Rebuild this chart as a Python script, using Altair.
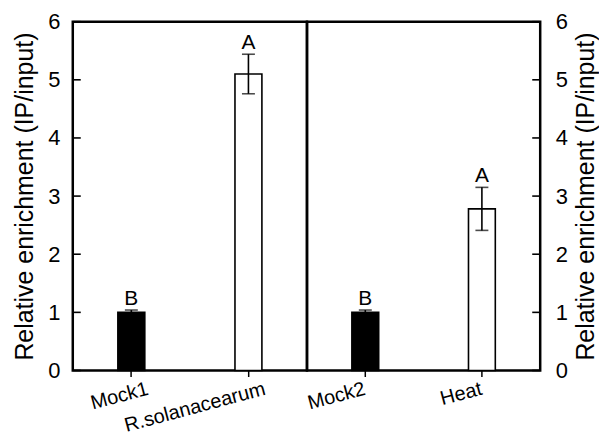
import altair as alt
import pandas as pd

groups_left = ["Mock1", "R.solanacearum"]
groups_right = ["Mock2", "Heat"]
values_left = [1.0, 5.1]
values_right = [1.0, 2.78]
errors_left = [0.04, 0.34]
errors_right = [0.04, 0.37]
letters_left = ["B", "A"]
letters_right = ["B", "A"]
fills = ["black", "white"]
y_ticks = [0, 1, 2, 3, 4, 5, 6]
y_title = "Relative enrichment (IP/input)"

FONT = "Liberation Sans"


def panel(groups, values, errors, letters, side, width, label_offset):
    df = pd.DataFrame({
        "group": groups,
        "value": values,
        "lo": [v - e for v, e in zip(values, errors)],
        "hi": [v + e for v, e in zip(values, errors)],
        "letter": letters,
        "fill": fills,
    })
    xaxis = alt.Axis(
        title=None, labelAngle=345, labelAlign="right", labelBaseline="top",
        labelFontSize=20, labelPadding=2, labelOffset=label_offset, tickSize=6,
        tickWidth=1.5, tickColor="black", domain=False, labelColor="black",
        labelFont=FONT,
    )
    xscale = alt.Scale(paddingInner=0.77, paddingOuter=0.385)
    x = alt.X("group:N", sort=groups, scale=xscale, axis=xaxis)
    yscale = alt.Scale(domain=[0, 6], nice=False, zero=True)
    if side == "left":
        extra = {"labelPadding": 13, "titlePadding": 10}
    else:
        extra = {"labelPadding": 15, "titlePadding": 6, "titleAngle": 270,
                 "titleBaseline": "top"}
    yaxis = alt.Axis(
        orient=side, values=y_ticks, format="d", ticks=False, grid=False, domain=False,
        title=y_title, titleFontSize=25, titleFontWeight="normal", titleColor="black",
        titleFont=FONT, labelFont=FONT, labelFontSize=22, labelColor="black",
        **extra,
    )

    def Y(f):
        return alt.Y(f, scale=yscale, axis=yaxis)

    base = alt.Chart(df)
    bars = base.mark_bar(stroke="black", strokeWidth=1.6).encode(
        x=x, y=Y("value:Q"), fill=alt.Fill("fill:N", scale=None),
    )
    rule = base.mark_rule(color="black", strokeWidth=1.6).encode(
        x=x, y=Y("lo:Q"), y2="hi:Q"
    )
    cap_hi = base.mark_tick(color="black", thickness=1.6, size=13).encode(
        x=x, y=Y("hi:Q")
    )
    cap_lo = base.mark_tick(color="black", thickness=1.6, size=13).encode(
        x=x, y=Y("lo:Q")
    )
    text = base.mark_text(
        baseline="alphabetic", dy=-5, fontSize=21, font=FONT, color="black"
    ).encode(x=x, y=Y("hi:Q"), text="letter:N")

    tdf = pd.DataFrame({"t": y_ticks})
    if side == "left":
        tx, tx2 = 0, 8
    else:
        tx, tx2 = width - 8, width
    ticks = alt.Chart(tdf).mark_rule(color="black", strokeWidth=1.6).encode(
        y=Y("t:Q"), x=alt.value(tx), x2=alt.value(tx2)
    )
    return alt.layer(bars, rule, cap_hi, cap_lo, text, ticks).properties(
        width=width, height=350
    )


left = panel(groups_left, values_left, errors_left, letters_left, "left", 235, 14)
right = panel(groups_right, values_right, errors_right, letters_right, "right", 234, -3)

chart = alt.hconcat(left, right, spacing=0, bounds="flush").properties(
    padding={"left": 3, "top": 0, "right": -1, "bottom": -2}
).configure(
    font=FONT, view=alt.ViewConfig(stroke="black", strokeWidth=2.5)
)

chart.save("out.html", embed_options={"renderer": "svg", "actions": False})
